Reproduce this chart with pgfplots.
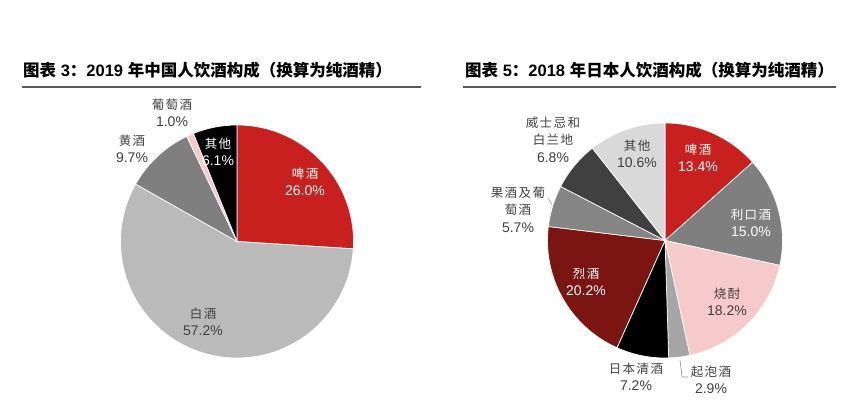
\documentclass[border=0pt]{standalone}
\usepackage{pgfplots}
\pgfplotsset{compat=1.18}
\usepackage{pgfplotstable}
\usepackage{fontspec}
\setmainfont{Liberation Sans}
\newfontfamily\cjk{Noto Sans CJK SC}
\newfontfamily\cjkl{Noto Sans CJK SC}[LetterSpace=12]

\definecolor{cRed}{HTML}{C8201F}
\definecolor{cLight}{HTML}{BABABA}
\definecolor{cDark}{HTML}{7F7F7F}
\definecolor{cPink}{HTML}{F6CACA}
\definecolor{cBlack}{HTML}{000000}
\definecolor{cMid}{HTML}{A6A6A6}
\definecolor{cMaroon}{HTML}{7A1512}
\definecolor{cGrey}{HTML}{858585}
\definecolor{cCharcoal}{HTML}{404040}
\definecolor{cPale}{HTML}{D9D9D9}
\definecolor{txt}{HTML}{404040}

% clockwise from 12 o'clock
\pgfplotstableread{
value color
26.0 cRed
57.2 cLight
9.7  cDark
1.0  cPink
6.1  cBlack
}\dataCN

\pgfplotstableread{
value color
13.4 cRed
15.0 cDark
18.2 cPink
2.9  cMid
7.2  cBlack
20.2 cMaroon
5.7  cGrey
6.8  cCharcoal
10.6 cPale
}\dataJP

% #1 table, #2 cx, #3 cy, #4 radius (1 unit = 1pt)
\newcommand\pie[4]{%
  \pgfplotstablegetrowsof{#1}%
  \pgfmathtruncatemacro\pieN{\pgfplotsretval-1}%
  \def\pieCum{0}%
  \pgfplotsforeachungrouped \pieI in {0,...,\pieN}{%
    \pgfplotstablegetelem{\pieI}{value}\of{#1}\let\pieV\pgfplotsretval
    \pgfplotstablegetelem{\pieI}{color}\of{#1}\let\pieC\pgfplotsretval
    \pgfmathsetmacro\pieA{90-3.6*\pieCum}%
    \pgfmathsetmacro\pieB{90-3.6*(\pieCum+\pieV)}%
    \pgfmathsetmacro\pieX{#2+#4*cos(\pieA)}%
    \pgfmathsetmacro\pieY{#3+#4*sin(\pieA)}%
    \pgfmathsetmacro\pieCum{\pieCum+\pieV}%
    \edef\pieTmp{\noexpand\fill[\pieC, draw=white, line width=0.7pt]
      (axis cs:#2,#3) -- (axis cs:\pieX,\pieY)
      arc[start angle=\pieA, end angle=\pieB, radius=#4pt] -- cycle;}%
    \pieTmp
  }%
}

\newcommand\lab[5]{% x, y(px from top), colour, name, value
  \node[align=center, text=#3, inner sep=0pt,
        font=\cjkl\fontsize{12.5}{17}\selectfont] at (axis cs:#1,{410-#2})
    {#4\\[0.5pt]\rmfamily\fontsize{14}{16}\selectfont #5};}

\begin{document}
\begin{tikzpicture}
\path (0,0) rectangle (859pt,410pt);
\begin{axis}[
  scale only axis, width=859pt, height=410pt,
  xmin=0, xmax=859, ymin=0, ymax=410,
  hide axis, clip=false,
  at={(0,0)}, anchor=south west,
]
\pie{\dataCN}{237}{168.5}{116.5}
\pie{\dataJP}{665}{169.5}{117.5}

% titles
\node[anchor=west, inner sep=0pt, text=black, font=\fontsize{16.5}{19}\selectfont\bfseries] at (axis cs:23,340)
  {{\cjk 图表} 3{\cjk ：}2019 {\cjk 年中国人饮酒构成（换算为纯酒精）}};
\node[anchor=west, inner sep=0pt, text=black, font=\fontsize{16.5}{19}\selectfont\bfseries] at (axis cs:465,340)
  {{\cjk 图表} 5{\cjk ：}2018 {\cjk 年日本人饮酒构成（换算为纯酒精）}};
\draw[black!65, line width=1.2pt] (axis cs:22,323) -- (axis cs:421,323);
\draw[black!65, line width=1.2pt] (axis cs:463,323) -- (axis cs:836,323);

% left labels
\lab{305}{182}{white}{啤酒}{26.0\%}
\lab{203}{322}{txt}{白酒}{57.2\%}
\lab{132}{149}{txt}{黄酒}{9.7\%}
\lab{172}{113}{txt}{葡萄酒}{1.0\%}
\lab{218}{152}{white}{其他}{6.1\%}

% right labels
\lab{698}{158}{white}{啤酒}{13.4\%}
\lab{751}{223}{white}{利口酒}{15.0\%}
\lab{727}{302}{txt}{烧酎}{18.2\%}
\lab{711}{380}{txt}{起泡酒}{2.9\%}
\lab{636}{377}{txt}{日本清酒}{7.2\%}
\lab{586}{282}{white}{烈酒}{20.2\%}
\lab{637}{154}{txt}{其他}{10.6\%}
\lab{518}{210}{txt}{果酒及葡\\萄酒}{5.7\%}
\lab{553}{140}{txt}{威士忌和\\白兰地}{6.8\%}

% leader lines
\draw[black!45, line width=0.6pt] (axis cs:680,50) -- (axis cs:682,33) -- (axis cs:688,33);
\draw[black!35, line width=0.6pt] (axis cs:548,212) -- (axis cs:552,205);
\end{axis}
\end{tikzpicture}
\end{document}
